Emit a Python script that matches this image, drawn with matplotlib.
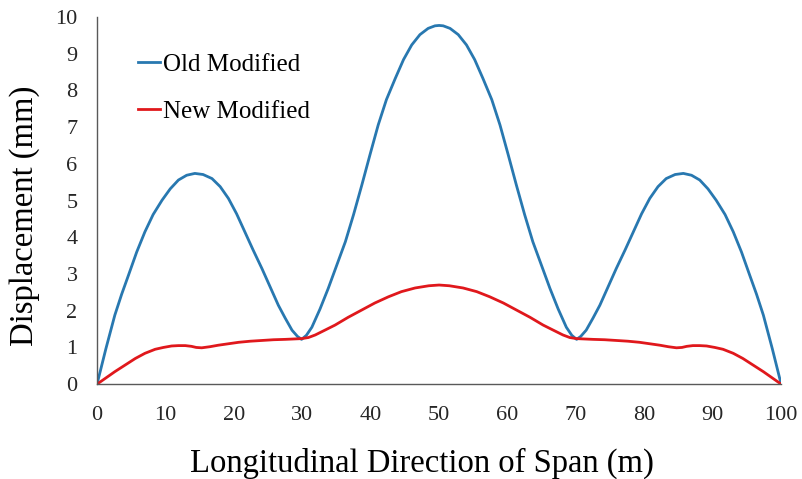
import numpy as np
import matplotlib.pyplot as plt

plt.rcParams['font.family'] = ['Liberation Serif', 'DejaVu Serif']

# span positions (m) and displacements (mm)
x_old = [0, 1.3, 2.6, 3.6, 4.6, 5.8, 7.0, 8.2, 9.5, 10.7, 11.9, 13.1, 14.3, 15.5, 16.8,
         18.0, 19.2, 20.4, 21.6, 22.8, 24.1, 25.3, 26.5, 27.5, 28.5, 29.3, 29.9, 30.6,
         31.4, 32.6, 33.8, 35.0, 36.3, 37.5, 38.7, 39.9, 41.1, 42.3, 43.6, 44.8, 46.0,
         47.2, 48.4, 49.4, 50,
         50.6, 51.6, 52.8, 54.0, 55.2, 56.4, 57.7, 58.9, 60.1, 61.3, 62.5, 63.7, 65.0,
         66.2, 67.4, 68.6, 69.4, 70.1, 70.7, 71.5, 72.5, 73.5, 74.7, 75.9, 77.2, 78.4,
         79.6, 80.8, 82.0, 83.2, 84.5, 85.7, 86.9, 88.1, 89.3, 90.5, 91.8, 93.0, 94.2,
         95.4, 96.4, 97.4, 98.7, 100]
old_modified = [0, 0.97, 1.88, 2.45, 2.97, 3.6, 4.15, 4.62, 5.01, 5.32, 5.56, 5.69, 5.74, 5.71, 5.60,
                5.38, 5.06, 4.64, 4.15, 3.66, 3.15, 2.65, 2.15, 1.8, 1.47, 1.3, 1.22, 1.33,
                1.55, 2.05, 2.61, 3.22, 3.88, 4.62, 5.42, 6.25, 7.06, 7.75, 8.33, 8.84, 9.24,
                9.52, 9.69, 9.76, 9.77,
                9.76, 9.69, 9.52, 9.24, 8.84, 8.33, 7.75, 7.06, 6.25, 5.42, 4.62, 3.88, 3.22,
                2.61, 2.05, 1.55, 1.33, 1.22, 1.3, 1.47, 1.8, 2.15, 2.65, 3.15, 3.66, 4.15,
                4.64, 5.06, 5.38, 5.60, 5.71, 5.74, 5.69, 5.56, 5.32, 5.01, 4.62, 4.15, 3.6,
                2.97, 2.45, 1.88, 0.97, 0]

x_new = [0, 1.3, 2.6, 4.1, 5.6, 7.0, 8.5, 9.7, 10.9, 11.9, 12.9, 13.8, 14.5, 15.3, 16.5,
         17.7, 19.2, 20.7, 22.4, 24.1, 25.8, 27.5, 29.9, 30.9, 31.9, 33.3, 34.8, 36.7,
         38.7, 40.6, 42.6, 44.5, 46.5, 48.5, 50,
         51.5, 53.5, 55.5, 57.4, 59.4, 61.3, 63.3, 65.2, 66.7, 68.1, 69.1, 70.1, 72.5,
         74.2, 75.9, 77.6, 79.3, 80.8, 82.3, 83.5, 84.7, 85.5, 86.2, 87.1, 88.1, 89.1,
         90.3, 91.5, 93.0, 94.4, 95.9, 97.4, 98.7, 100]
new_modified = [0, 0.17, 0.34, 0.52, 0.70, 0.84, 0.95, 1.0, 1.04, 1.05, 1.05, 1.03, 1.0, 0.99, 1.02,
                1.06, 1.1, 1.14, 1.17, 1.19, 1.21, 1.22, 1.24, 1.27, 1.34, 1.47, 1.61, 1.82,
                2.02, 2.21, 2.38, 2.52, 2.62, 2.68, 2.70,
                2.68, 2.62, 2.52, 2.38, 2.21, 2.02, 1.82, 1.61, 1.47, 1.34, 1.27, 1.24, 1.22,
                1.21, 1.19, 1.17, 1.14, 1.1, 1.06, 1.02, 0.99, 1.0, 1.03, 1.05, 1.05, 1.04,
                1.0, 0.95, 0.84, 0.70, 0.52, 0.34, 0.17, 0]

fig = plt.figure(figsize=(8.02, 4.79), dpi=100)
ax = fig.add_axes([0.121, 0.198, 0.853, 0.7665])

ax.plot(x_old, old_modified, color='#2878B0', linewidth=2.0, label='Old Modified',
        solid_joinstyle='round')
ax.plot(x_new, new_modified, color='#E0181C', linewidth=2.0, label='New Modified',
        solid_joinstyle='round')

ax.set_xlim(0, 100)
ax.set_ylim(0, 10)
ax.set_xticks(np.arange(0, 101, 10))
ax.set_yticks(np.arange(0, 11, 1))
ax.tick_params(axis='x', length=0, pad=16, labelsize=16, colors='#262626')
ax.tick_params(axis='y', length=0, pad=14, labelsize=16, colors='#262626')
for side in ['top', 'right']:
  ax.spines[side].set_visible(False)
for side in ['left', 'bottom']:
  ax.spines[side].set_color('#595959')
  ax.spines[side].set_linewidth(1.0)

ax.set_xlabel('Longitudinal Direction of Span (m)', fontsize=23.5, labelpad=16)
ax.set_ylabel('Displacement (mm)', fontsize=23.5, labelpad=11)
ax.xaxis.label.set_x(0.475)
ax.yaxis.label.set_y(0.458)

ax.legend(loc='upper left', bbox_to_anchor=(0.06, 0.901), frameon=False, fontsize=18,
          handlelength=0.88, handletextpad=0.12, labelspacing=0.97, borderpad=0, borderaxespad=0)

fig.savefig('out.png', dpi=100)
